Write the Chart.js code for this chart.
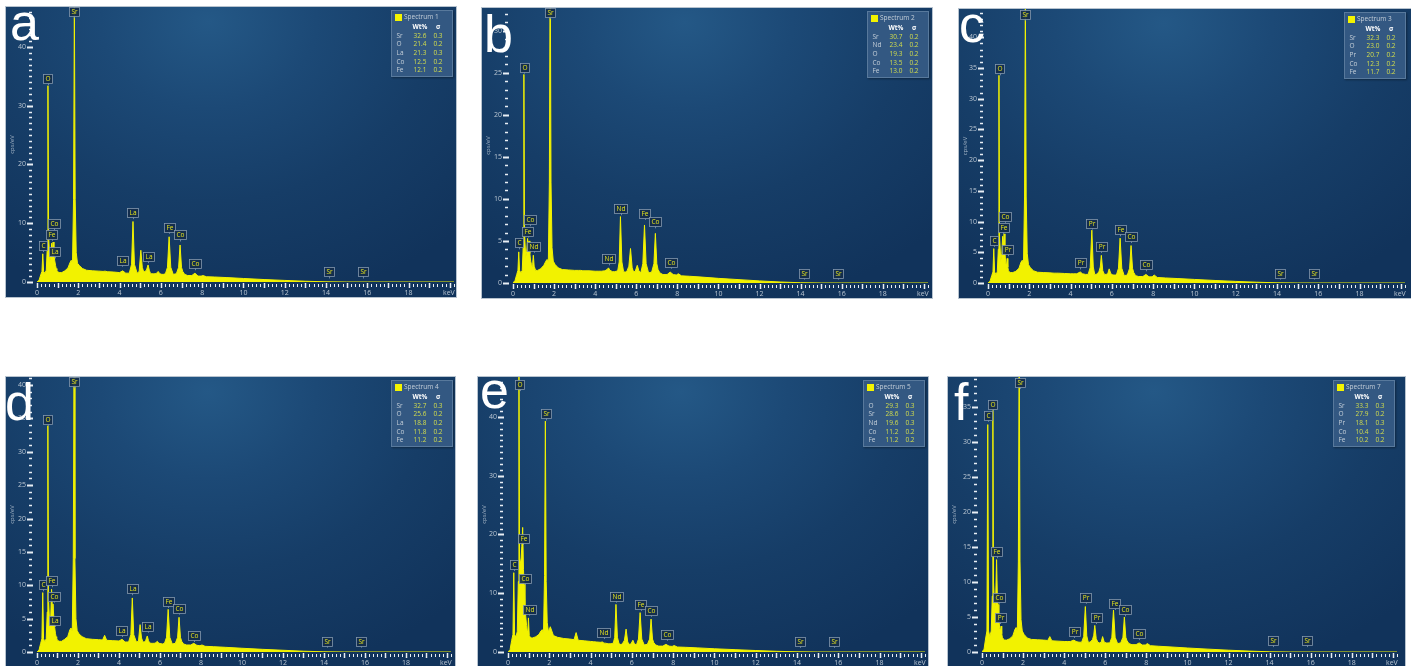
<!DOCTYPE html>
<html>
<head>
<meta charset="utf-8">
<title>EDS spectra a-f</title>
<script src="https://cdn.jsdelivr.net/npm/chart.js@4.4.1/dist/chart.umd.min.js"></script>
<style>
  html, body { margin: 0; padding: 0; }
  body { width: 1411px; height: 666px; overflow: hidden; position: relative; background: #ffffff; }
  .panel {
    position: absolute; overflow: hidden;
    background: radial-gradient(ellipse 80% 100% at 45% 5%, #245886 0%, #1c4976 30%, #163d67 62%, #11335b 100%);
    box-shadow: 0 0 0 1px #b7c3cf;
  }
  .panel canvas { position: absolute; left: 0; top: 0; }
  .letter { position: absolute; color: #ffffff; font: 52px/52px "Liberation Sans", Arial, sans-serif; }
  .legend {
    position: absolute; width: 62px; height: 67px; box-sizing: border-box;
    background: #335882; border: 1px solid #58799c; box-shadow: 1px 1px 2px rgba(0, 0, 0, 0.35);
    font-family: "Open Sans", sans-serif; font-size: 6.5px; line-height: 8px; color: #c5cfd9;
  }
  .legend span { position: absolute; white-space: nowrap; }
  .legend .sq { width: 7.5px; height: 7.5px; background: #f4f400; left: 2.5px; top: 2.5px; }
  .legend .val { color: #d3de4c; transform: translateX(-50%); }
  .legend .hd { color: #ffffff; font-weight: bold; transform: translateX(-50%); }
</style>
</head>
<body>
<script>
// energy axis shared by all six spectra (keV)
const energyKeV = [
    0, 0.1, 0.18, 0.24, 0.28, 0.32, 0.38, 0.45, 0.5, 0.53, 0.56, 0.62,
    0.67, 0.71, 0.75, 0.78, 0.82, 0.86, 0.9, 0.93, 0.96, 0.99, 1.03, 1.1,
    1.2, 1.35, 1.5, 1.6, 1.66, 1.72, 1.77, 1.81, 1.85, 1.9, 1.96, 2.05, 2.2, 2.4,
    2.7, 3.0, 3.2, 3.3, 3.4, 3.7, 4.0, 4.15, 4.3, 4.47,
    4.58, 4.65, 4.72, 4.85, 4.95, 5.03, 5.1, 5.17, 5.23, 5.3,
    5.38, 5.44, 5.49, 5.56, 5.64, 5.72, 5.8, 5.87, 5.95, 6.05,
    6.12, 6.22, 6.32, 6.4, 6.48, 6.6, 6.75, 6.86, 6.93, 7.0,
    7.06, 7.15, 7.3, 7.5, 7.65, 7.8, 7.95, 8.05, 8.2,
    8.6, 9.2, 10, 11, 12, 13, 14, 15, 16, 18, 20.2
];

// counts (cps/eV)
const cpsA = [
    0, 0.3, 1.2, 1.8, 4.8, 1.8, 1.5, 2.0, 6.0, 33.4, 8.0, 3.5,
    4.5, 6.6, 5.2, 6.8, 4.6, 3.6, 2.8, 2.3, 2.0, 1.8, 1.7, 1.6,
    1.6, 1.9, 2.4, 3.3, 3.7, 3.2, 14, 47, 14, 5.0, 3.2, 2.8, 2.3, 2.0,
    1.9, 1.85, 1.8, 1.85, 1.75, 1.7, 1.6, 1.9, 1.5, 1.5,
    3.0, 10.3, 3.0, 1.5, 1.8, 5.4, 2.5, 1.7, 1.8, 2.0,
    2.9, 2.0, 1.5, 1.4, 1.4, 1.4, 1.5, 1.8, 1.4, 1.3,
    1.3, 1.4, 2.5, 7.7, 2.5, 1.3, 1.4, 2.5, 6.3, 2.5,
    1.8, 1.3, 1.1, 1.1, 1.5, 1.0, 1.0, 1.1, 0.9,
    0.85, 0.75, 0.6, 0.42, 0.27, 0.13, 0.03, 0, 0, 0, 0
];
const cpsB = [
    0, 0.3, 1.0, 1.5, 3.7, 1.5, 1.2, 1.5, 4.5, 24.8, 6.0, 3.0,
    3.8, 5.3, 4.2, 5.0, 3.5, 2.6, 2.2, 2.0, 2.4, 3.3, 2.0, 1.5,
    1.5, 1.7, 2.1, 2.6, 2.8, 2.5, 12, 40, 12, 4.2, 2.6, 2.2, 1.8, 1.6,
    1.55, 1.5, 1.5, 1.5, 1.45, 1.45, 1.4, 1.4, 1.4, 1.45,
    1.6, 1.8, 1.5, 1.35, 1.35, 1.4, 1.5, 2.5, 7.9, 2.5,
    1.4, 1.3, 1.3, 1.5, 2.0, 4.1, 1.8, 1.3, 1.4, 2.1,
    1.5, 1.2, 2.3, 6.9, 2.3, 1.2, 1.3, 2.3, 5.9, 2.3,
    1.6, 1.2, 1.0, 1.0, 1.3, 1.0, 0.95, 1.1, 0.85,
    0.8, 0.7, 0.55, 0.4, 0.25, 0.12, 0.03, 0, 0, 0, 0
];
const cpsC = [
    0, 0.3, 1.2, 1.8, 5.6, 1.8, 1.4, 1.8, 5.5, 33.8, 7.5, 3.5,
    4.8, 7.6, 6.2, 8.0, 5.0, 3.2, 3.0, 4.0, 2.6, 2.0, 1.8, 1.7,
    1.7, 1.9, 2.4, 3.4, 3.7, 3.2, 14, 47, 14, 4.8, 3.0, 2.5, 2.0, 1.75,
    1.7, 1.65, 1.6, 1.6, 1.6, 1.55, 1.5, 1.5, 1.5, 1.8,
    1.5, 1.45, 1.4, 1.4, 2.5, 8.6, 2.6, 1.4, 1.4, 1.5,
    1.9, 2.6, 4.5, 2.0, 1.4, 1.4, 1.5, 2.3, 1.5, 1.3,
    1.3, 1.3, 2.4, 7.3, 2.4, 1.2, 1.3, 2.4, 6.1, 2.4,
    1.7, 1.2, 1.05, 1.05, 1.4, 1.0, 1.0, 1.3, 0.9,
    0.82, 0.72, 0.58, 0.41, 0.26, 0.13, 0.03, 0, 0, 0, 0
];
const cpsD = [
    0, 0.3, 1.3, 2.0, 8.9, 2.0, 1.5, 2.0, 6.0, 33.9, 8.0, 4.0,
    5.0, 9.4, 6.5, 7.2, 5.2, 3.7, 2.8, 2.3, 2.0, 1.8, 1.7, 1.6,
    1.6, 1.9, 2.3, 3.3, 3.6, 3.1, 14, 45, 14, 5.0, 3.2, 2.7, 2.3, 2.0,
    1.9, 1.85, 1.8, 2.5, 1.75, 1.7, 1.65, 1.9, 1.5, 1.5,
    2.6, 8.1, 2.6, 1.5, 1.6, 4.1, 2.1, 1.5, 1.5, 1.7,
    2.4, 1.7, 1.4, 1.3, 1.3, 1.3, 1.4, 1.6, 1.3, 1.25,
    1.2, 1.3, 2.2, 6.4, 2.2, 1.2, 1.3, 2.2, 5.2, 2.2,
    1.6, 1.2, 1.05, 1.05, 1.3, 1.0, 0.95, 1.05, 0.85,
    0.8, 0.7, 0.56, 0.4, 0.26, 0.12, 0.03, 0, 0, 0, 0
];
const cpsE = [
    0, 0.4, 2.0, 3.0, 13.5, 3.0, 2.5, 3.5, 12, 50, 16, 15,
    18, 21.2, 14, 11.5, 8.0, 6.0, 4.5, 3.6, 3.2, 5.8, 2.8, 2.4,
    2.4, 2.6, 3.0, 3.6, 3.8, 3.2, 13, 39.3, 12, 5.0, 3.4, 4.3, 2.8, 2.5,
    2.3, 2.2, 2.1, 3.3, 2.0, 1.9, 1.8, 1.75, 1.7, 1.65,
    1.7, 1.5, 1.5, 1.4, 1.4, 1.45, 1.5, 2.5, 8.1, 2.5,
    1.4, 1.3, 1.3, 1.5, 2.0, 3.9, 1.7, 1.3, 1.35, 2.0,
    1.4, 1.2, 2.2, 6.7, 2.2, 1.2, 1.3, 2.2, 5.6, 2.2,
    1.6, 1.2, 1.0, 1.0, 1.3, 1.0, 0.95, 1.1, 0.85,
    0.8, 0.7, 0.55, 0.4, 0.25, 0.12, 0.03, 0, 0, 0, 0
];
const cpsF = [
    0, 0.4, 2.0, 3.0, 32.5, 3.0, 2.2, 3.0, 8.0, 34.5, 10, 6.0,
    8.0, 13.2, 7.5, 6.8, 4.8, 3.4, 3.0, 3.7, 2.6, 2.1, 1.9, 1.7,
    1.7, 1.9, 2.3, 3.2, 3.5, 3.0, 13, 45, 13, 4.6, 3.0, 2.5, 2.0, 1.8,
    1.75, 1.7, 1.65, 2.2, 1.6, 1.55, 1.5, 1.5, 1.5, 1.7,
    1.5, 1.45, 1.4, 1.4, 2.2, 6.5, 2.3, 1.4, 1.4, 1.5,
    1.8, 2.4, 3.8, 1.9, 1.4, 1.3, 1.4, 2.2, 1.4, 1.3,
    1.3, 1.3, 2.1, 6.0, 2.1, 1.2, 1.3, 2.1, 5.0, 2.1,
    1.6, 1.2, 1.05, 1.05, 1.3, 1.0, 1.0, 1.2, 0.9,
    0.82, 0.72, 0.57, 0.41, 0.26, 0.13, 0.03, 0, 0, 0, 0
];

// tick labels
const xTickLabels = [0, 2, 4, 6, 8, 10, 12, 14, 16, 18];
const yTickLabelsA = [0, 10, 20, 30, 40];
const yTickLabelsB = [0, 5, 10, 15, 20, 25, 30];
const yTickLabelsC = [0, 5, 10, 15, 20, 25, 30, 35, 40];
const yTickLabelsD = [0, 5, 10, 15, 20, 25, 30, 35, 40];
const yTickLabelsE = [0, 10, 20, 30, 40];
const yTickLabelsF = [0, 5, 10, 15, 20, 25, 30, 35];

// peak markers: element, energy (keV), height of the marker foot (cps/eV)
const peakNamesA = ["C", "O", "Fe", "Co", "La", "Sr", "La", "La", "La", "Fe", "Co", "Co", "Sr", "Sr"];
const peakKeVA = [0.28, 0.53, 0.71, 0.81, 0.86, 1.81, 4.14, 4.65, 5.4, 6.4, 6.93, 7.65, 14.16, 15.8];
const peakCpsA = [5.1, 33.5, 7.0, 8.85, 4.0, 44.9, 2.6, 10.7, 3.2, 8.2, 6.9, 2.0, 0.6, 0.6];

const peakNamesB = ["C", "O", "Fe", "Co", "Nd", "Sr", "Nd", "Nd", "Fe", "Co", "Co", "Sr", "Sr"];
const peakKeVB = [0.29, 0.55, 0.72, 0.81, 1.02, 1.8, 4.67, 5.25, 6.42, 6.93, 7.68, 14.16, 15.8];
const peakCpsB = [4.0, 24.9, 5.4, 6.75, 3.6, 31.4, 2.1, 8.06, 7.5, 6.5, 1.7, 0.4, 0.4];

const peakNamesC = ["C", "O", "Fe", "Co", "Pr", "Sr", "Pr", "Pr", "Pr", "Fe", "Co", "Co", "Sr", "Sr"];
const peakKeVC = [0.27, 0.56, 0.74, 0.81, 0.95, 1.81, 4.47, 5.03, 5.49, 6.4, 6.93, 7.65, 14.16, 15.8];
const peakCpsC = [5.9, 33.8, 8.0, 9.8, 4.35, 42.7, 2.2, 8.7, 4.9, 7.6, 6.5, 1.9, 0.55, 0.55];

const peakNamesD = ["C", "O", "Fe", "Co", "La", "Sr", "La", "La", "La", "Fe", "Co", "Co", "Sr", "Sr"];
const peakKeVD = [0.29, 0.53, 0.73, 0.81, 0.86, 1.81, 4.14, 4.65, 5.4, 6.4, 6.93, 7.65, 14.16, 15.8];
const peakCpsD = [9.1, 33.9, 9.7, 7.4, 3.75, 39.5, 2.25, 8.5, 2.9, 6.6, 5.6, 1.5, 0.65, 0.65];

const peakNamesE = ["C", "O", "Fe", "Co", "Nd", "Sr", "Nd", "Nd", "Fe", "Co", "Co", "Sr", "Sr"];
const peakKeVE = [0.3, 0.56, 0.73, 0.8, 1.02, 1.84, 4.65, 5.25, 6.42, 6.93, 7.68, 14.16, 15.8];
const peakCpsE = [13.8, 44.4, 18.2, 11.4, 6.2, 39.4, 2.2, 8.4, 7.0, 6.0, 1.9, 0.7, 0.7];

const peakNamesF = ["C", "O", "Fe", "Co", "Pr", "Sr", "Pr", "Pr", "Pr", "Fe", "Co", "Co", "Sr", "Sr"];
const peakKeVF = [0.29, 0.53, 0.73, 0.83, 0.88, 1.85, 4.5, 5.04, 5.55, 6.45, 6.97, 7.65, 14.16, 15.8];
const peakCpsF = [32.9, 34.4, 13.4, 6.9, 4.0, 37.6, 2.0, 6.9, 4.0, 6.0, 5.1, 1.7, 0.7, 0.7];

// quantification tables (Wt% and sigma)
const spectrumTitles = ["Spectrum 1", "Spectrum 2", "Spectrum 3", "Spectrum 4", "Spectrum 5", "Spectrum 7"];
const elementsA = ["Sr", "O", "La", "Co", "Fe"], wtA = [32.6, 21.4, 21.3, 12.5, 12.1], sigmaA = [0.3, 0.2, 0.3, 0.2, 0.2];
const elementsB = ["Sr", "Nd", "O", "Co", "Fe"], wtB = [30.7, 23.4, 19.3, 13.5, 13.0], sigmaB = [0.2, 0.2, 0.2, 0.2, 0.2];
const elementsC = ["Sr", "O", "Pr", "Co", "Fe"], wtC = [32.3, 23.0, 20.7, 12.3, 11.7], sigmaC = [0.2, 0.2, 0.2, 0.2, 0.2];
const elementsD = ["Sr", "O", "La", "Co", "Fe"], wtD = [32.7, 25.6, 18.8, 11.8, 11.2], sigmaD = [0.3, 0.2, 0.2, 0.2, 0.2];
const elementsE = ["O", "Sr", "Nd", "Co", "Fe"], wtE = [29.3, 28.6, 19.6, 11.2, 11.2], sigmaE = [0.3, 0.3, 0.3, 0.2, 0.2];
const elementsF = ["Sr", "O", "Pr", "Co", "Fe"], wtF = [33.3, 27.9, 18.1, 10.4, 10.2], sigmaF = [0.3, 0.2, 0.3, 0.2, 0.2];

// panel placement on the page
const panels = [
    { letter: "a", left: 6, top: 7, width: 450, height: 290, axisW: 31, padR: 2, yMax: 46.8, letterX: 4, letterBase: 33,
      cps: cpsA, yTicks: yTickLabelsA, names: peakNamesA, kev: peakKeVA, foot: peakCpsA, title: spectrumTitles[0], els: elementsA, wt: wtA, sig: sigmaA },
    { letter: "b", left: 482, top: 8, width: 450, height: 290, axisW: 31, padR: 4, yMax: 32.7, letterX: 2, letterBase: 44,
      cps: cpsB, yTicks: yTickLabelsB, names: peakNamesB, kev: peakKeVB, foot: peakCpsB, title: spectrumTitles[1], els: elementsB, wt: wtB, sig: sigmaB },
    { letter: "c", left: 959, top: 9, width: 454, height: 289, axisW: 29, padR: 8, yMax: 44.6, letterX: 0, letterBase: 33,
      cps: cpsC, yTicks: yTickLabelsC, names: peakNamesC, kev: peakKeVC, foot: peakCpsC, title: spectrumTitles[2], els: elementsC, wt: wtC, sig: sigmaC },
    { letter: "d", left: 6, top: 377, width: 449, height: 290, axisW: 31, padR: 4, yMax: 41.2, letterX: -1, letterBase: 43,
      cps: cpsD, yTicks: yTickLabelsD, names: peakNamesD, kev: peakKeVD, foot: peakCpsD, title: spectrumTitles[3], els: elementsD, wt: wtD, sig: sigmaD },
    { letter: "e", left: 478, top: 377, width: 450, height: 290, axisW: 30, padR: 3, yMax: 46.8, letterX: 2, letterBase: 31,
      cps: cpsE, yTicks: yTickLabelsE, names: peakNamesE, kev: peakKeVE, foot: peakCpsE, title: spectrumTitles[4], els: elementsE, wt: wtE, sig: sigmaE },
    { letter: "f", left: 948, top: 377, width: 457, height: 290, axisW: 34, padR: 8, yMax: 39.3, letterX: 6, letterBase: 43,
      cps: cpsF, yTicks: yTickLabelsF, names: peakNamesF, kev: peakKeVF, foot: peakCpsF, title: spectrumTitles[5], els: elementsF, wt: wtF, sig: sigmaF }
];

const tickText = "#bac6d2";
const tickMark = "#e9eff5";
const yellow = "#f2f200";
const smallFont = '"Open Sans", sans-serif';

// axis ticks and labels, keV unit and the element markers
const spectrumDecor = {
    id: "spectrumDecor",
    afterDraw(chart, args, opts) {
        const { ctx, chartArea: area, scales: { x, y } } = chart;
        ctx.save();
        ctx.strokeStyle = tickMark;

        // y: a dash every 1 cps/eV, longer where labelled
        for (let v = 0; v <= Math.floor(y.max); v++) {
            const py = Math.round(y.getPixelForValue(v)) + 0.5;
            const major = opts.yTicks.includes(v);
            ctx.lineWidth = major ? 2 : 1.5;
            ctx.beginPath();
            ctx.moveTo(area.left - (major ? 10 : 8), py);
            ctx.lineTo(area.left - (major ? 4 : 5), py);
            ctx.stroke();
        }
        // x: a tick every 0.2 keV, taller on whole keV
        for (let k = 0; k <= Math.round(x.max * 5); k++) {
            const px = Math.round(x.getPixelForValue(k / 5)) + 0.5;
            const major = k % 5 === 0;
            ctx.lineWidth = major ? 1.5 : 1;
            ctx.beginPath();
            ctx.moveTo(px, area.bottom + (major ? 1 : 2));
            ctx.lineTo(px, area.bottom + (major ? 6 : 5));
            ctx.stroke();
        }

        ctx.fillStyle = tickText;
        ctx.font = "7px " + smallFont;
        ctx.textBaseline = "middle";
        ctx.textAlign = "right";
        opts.yTicks.forEach(v => ctx.fillText(String(v), area.left - 11, y.getPixelForValue(v)));
        ctx.textAlign = "center";
        xTickLabels.forEach(v => ctx.fillText(String(v), x.getPixelForValue(v), area.bottom + 11));
        ctx.fillText("keV", x.getPixelForValue(19.95), area.bottom + 11);

        ctx.font = "6.5px " + smallFont;
        opts.names.forEach((name, i) => {
            const px = x.getPixelForValue(opts.kev[i]);
            const py = y.getPixelForValue(opts.foot[i]);
            const w = Math.max(7, Math.round(ctx.measureText(name).width + 4));
            const h = 9;
            const bx = Math.round(px - w / 2) + 0.5;
            const by = Math.round(py - 2 - h) + 0.5;
            ctx.fillStyle = "rgba(20, 45, 75, 0.92)";
            ctx.fillRect(bx, by, w, h);
            ctx.strokeStyle = "#8498ad";
            ctx.lineWidth = 0.8;
            ctx.strokeRect(bx, by, w, h);
            ctx.beginPath();
            ctx.moveTo(Math.round(px) + 0.5, by + h);
            ctx.lineTo(Math.round(px) + 0.5, py);
            ctx.stroke();
            ctx.fillStyle = "#e6e41e";
            ctx.fillText(name, bx + w / 2, by + h / 2 + 0.5);
        });
        ctx.restore();
    }
};

function addLegend(panelEl, p) {
    const box = document.createElement("div");
    box.className = "legend";
    box.style.left = "385px";
    box.style.top = "3px";
    let html = '<span class="sq"></span><span style="left:12px;top:2.3px">' + p.title + "</span>";
    html += '<span class="hd" style="left:28px;top:12.3px">Wt%</span><span class="hd" style="left:46px;top:12.3px">σ</span>';
    p.els.forEach((el, i) => {
        const t = (20.7 + i * 8.6).toFixed(1);
        html += '<span style="left:4.5px;top:' + t + 'px">' + el + "</span>";
        html += '<span class="val" style="left:28px;top:' + t + 'px">' + p.wt[i].toFixed(1) + "</span>";
        html += '<span class="val" style="left:46px;top:' + t + 'px">' + p.sig[i].toFixed(1) + "</span>";
    });
    box.innerHTML = html;
    panelEl.appendChild(box);
}

panels.forEach(p => {
    const panel = document.createElement("div");
    panel.className = "panel";
    panel.style.left = p.left + "px";
    panel.style.top = p.top + "px";
    panel.style.width = p.width + "px";
    panel.style.height = p.height + "px";
    document.body.appendChild(panel);

    const canvas = document.createElement("canvas");
    canvas.width = p.width;
    canvas.height = p.height;
    canvas.style.width = p.width + "px";
    canvas.style.height = p.height + "px";
    panel.appendChild(canvas);

    const letter = document.createElement("div");
    letter.className = "letter";
    letter.textContent = p.letter;
    letter.style.left = p.letterX + "px";
    letter.style.top = (p.letterBase - 44) + "px";
    panel.appendChild(letter);

    addLegend(panel, p);

    new Chart(canvas.getContext("2d"), {
        type: "line",
        data: {
            datasets: [{
                label: p.title,
                data: energyKeV.map((e, i) => ({ x: e, y: p.cps[i] })),
                borderColor: yellow,
                backgroundColor: yellow,
                borderWidth: 1,
                pointRadius: 0,
                pointHoverRadius: 0,
                tension: 0,
                fill: "origin"
            }]
        },
        options: {
            responsive: false,
            animation: false,
            events: [],
            layout: { padding: { left: 0, right: p.padR, top: 0, bottom: 0 } },
            plugins: {
                legend: { display: false },
                tooltip: { enabled: false },
                spectrumDecor: { yTicks: p.yTicks, names: p.names, kev: p.kev, foot: p.foot }
            },
            scales: {
                x: {
                    type: "linear",
                    min: 0,
                    max: 20.2,
                    grid: { display: false },
                    border: { display: false },
                    ticks: { display: false },
                    afterFit: s => { s.height = 15; }
                },
                y: {
                    min: 0,
                    max: p.yMax,
                    grid: { display: false },
                    border: { display: false },
                    ticks: { display: false },
                    afterFit: s => { s.width = p.axisW; },
                    title: {
                        display: true,
                        text: "cps/eV",
                        color: "#9fb0c2",
                        font: { size: 6, family: smallFont },
                        padding: { top: 3, bottom: 0 }
                    }
                }
            }
        },
        plugins: [spectrumDecor]
    });
});
</script>
</body>
</html>
